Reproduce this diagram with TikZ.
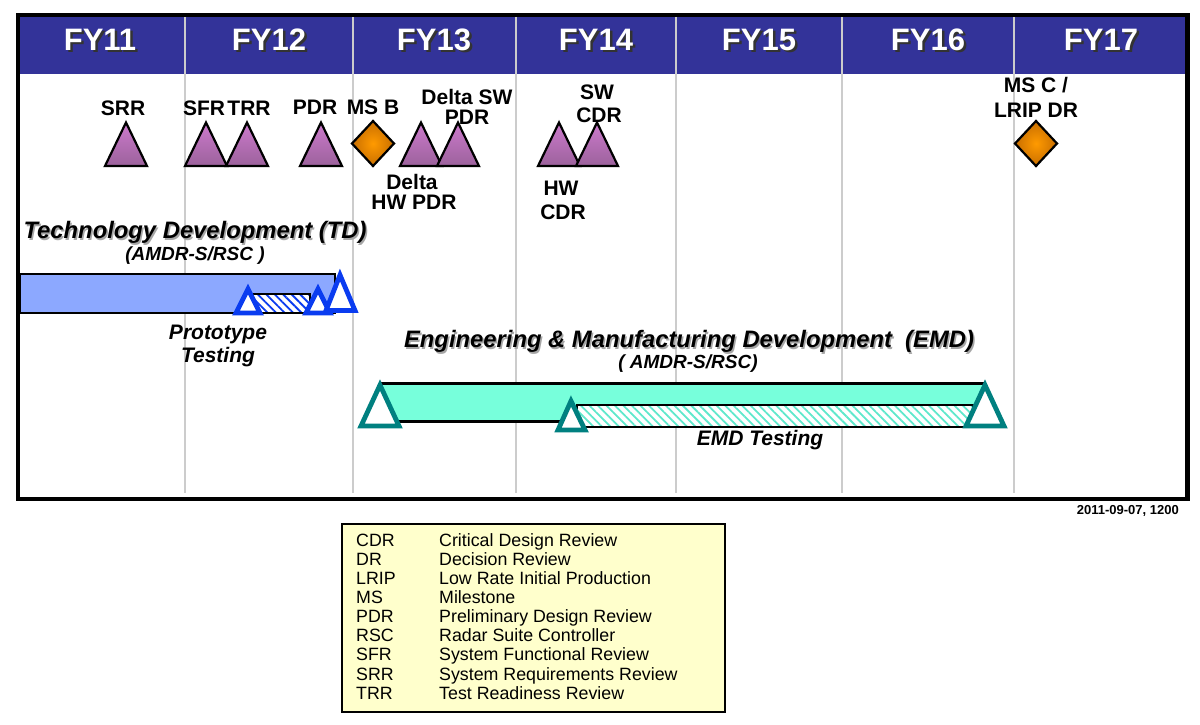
\documentclass[tikz,border=0pt]{standalone}
\usepackage{fontspec}
\setmainfont{Liberation Sans}
\usetikzlibrary{patterns.meta}

\definecolor{hdrblue}{HTML}{333399}
\definecolor{gridgray}{HTML}{CCCCCC}
\definecolor{revTop}{HTML}{CC7ACC}
\definecolor{revMid}{HTML}{FF90FF}
\definecolor{revBot}{HTML}{9C629C}
\definecolor{msIn}{HTML}{FF9A00}
\definecolor{msOut}{HTML}{C86E00}
\definecolor{tdfill}{HTML}{8CA8FF}
\definecolor{tdline}{HTML}{0A3CF0}
\definecolor{emdfill}{HTML}{77FFDB}
\definecolor{emdhatch}{HTML}{5EE8CC}
\definecolor{emdline}{HTML}{008080}
\definecolor{legfill}{HTML}{FFFFCC}

\newcommand\fyfont{\fontsize{31}{36}\selectfont\bfseries}
\newcommand\lblfont{\fontsize{21}{24}\selectfont\bfseries}
\newcommand\ttlfont{\fontsize{23.8}{28}\selectfont\bfseries\itshape}
\newcommand\subfont{\fontsize{19}{22}\selectfont\bfseries\itshape}
\newcommand\tstfont{\fontsize{21}{24}\selectfont\bfseries\itshape}
\newcommand\legfont{\fontsize{17.8}{20}\selectfont}
\newcommand\datefont{\fontsize{13}{15}\selectfont\bfseries}
% text with a drop shadow set behind it: {text}{offset}{shadow colour}
\newcommand\dropshadowed[3]{\makebox[0pt][l]{\kern#2\raisebox{-#2}{\textcolor{#3}{#1}}}#1}

\begin{document}
\begin{tikzpicture}[x=1pt,y=-1pt,
  fy/.style={font=\fyfont, text=white, inner sep=0, anchor=base},
  lbl/.style={font=\lblfont, inner sep=0, anchor=base},
  ttl/.style={font=\ttlfont, inner sep=0, anchor=base},
  subttl/.style={font=\subfont, inner sep=0, anchor=base},
  tst/.style={font=\tstfont, inner sep=0, anchor=base},
  leg/.style={font=\legfont, inner sep=0, anchor=base west},
  gridline/.style={draw=gridgray, line width=2},
  barline/.style={draw=black, line width=2.4},
  tdtri/.style={draw=tdline, fill=white, line width=4.8, line join=miter},
  emdtri/.style={draw=emdline, fill=white, line width=4.8, line join=miter},
  revtri/.pic={\shade[top color=revTop, middle color=revMid, bottom color=revBot,
      draw=black, line width=2.2, line join=miter]
      (-21,0) -- (0,-43.5) -- (21,0) -- cycle;},
  msdia/.pic={\shade[inner color=msIn, outer color=msOut, draw=black, line width=2.2]
      (-21,0) -- (0,-22.5) -- (21,0) -- (0,22.5) -- cycle;}
]
\useasboundingbox (0,0) rectangle (1200,724);

% header band
\fill[hdrblue] (20,17) rectangle (1185,74);

% fiscal-year dividers
\foreach \gx in {185,353,516,676,842,1014}
  \draw[gridline] (\gx,17) -- (\gx,493);

% fiscal-year headings
\foreach \hx/\yrname [count=\i] in {100/FY11,269/FY12,434/FY13,596/FY14,759/FY15,928/FY16,1101/FY17}
  \node[fy] (fy\i) at (\hx,50) {\dropshadowed{\yrname}{2.5pt}{black!80}};

% review milestones
\pic at (126,166) {revtri};
\pic at (206,166) {revtri};
\pic at (247,166) {revtri};
\pic at (321,166) {revtri};
\pic at (421,166) {revtri};
\pic at (458,166) {revtri};
\pic at (559,166) {revtri};
\pic at (597,166) {revtri};

% decision milestones
\pic at (373,143.5) {msdia};
\pic at (1036,143.5) {msdia};

% milestone labels
\node[lbl] (srr) at (123,115.5) {SRR};
\node[lbl] (sfr) at (204,115.5) {SFR};
\node[lbl] (trr) at (249,115.5) {TRR};
\node[lbl] (pdr) at (315,114.5) {PDR};
\node[lbl] (msb) at (373,114.5) {MS B};
\node[lbl] (dsw1) at (467,104.2) {Delta SW};
\node[lbl] (dsw2) at (467,124.2) {PDR};
\node[lbl] (dhw1) at (412,189.5) {Delta};
\node[lbl] (dhw2) at (414,209.5) {HW PDR};
\node[lbl] (swc1) at (597,99.2) {SW};
\node[lbl] (swc2) at (599,122.5) {CDR};
\node[lbl] (hwc1) at (561,195.8) {HW};
\node[lbl] (hwc2) at (563,219.2) {CDR};
\node[lbl] (msc1) at (1036,92.5) {MS C /};
\node[lbl] (msc2) at (1036,117.5) {LRIP DR};

% technology development phase
\node[ttl] (tdt) at (195,238.5) {\dropshadowed{Technology Development (TD)}{1.5pt}{black!35}};
\node[subttl] (tds) at (195,260.5) {(AMDR-S/RSC )};

\draw[barline, fill=tdfill] (20,274) rectangle (335,313);
\fill[white] (253,294) rectangle (310,313);
\draw[barline, pattern={Lines[angle=-45,distance=6pt,line width=1.8pt]}, pattern color=tdline]
  (253,294) rectangle (310,313);
\draw[tdtri] (236,313) -- (248,289) -- (260,313) -- cycle;
\draw[tdtri] (306,313) -- (318,289) -- (330,313) -- cycle;
\draw[tdtri] (326,310.5) -- (340,275) -- (355,310.5) -- cycle;
\node[tst] (pt1) at (218,339.2) {Prototype};
\node[tst] (pt2) at (218,362.5) {Testing};

% engineering & manufacturing development phase
\node[ttl] (emdt) at (689,347.5) {\dropshadowed{Engineering \& Manufacturing Development\ \ (EMD)}{1.5pt}{black!35}};
\node[subttl] (emds) at (688,368) {( AMDR-S/RSC)};

\draw[barline, fill=emdfill] (381,383.5) rectangle (985,421.5);
\fill[white] (577,405) rectangle (973,427);
\draw[barline, pattern={Lines[angle=-45,distance=6pt,line width=1.8pt]}, pattern color=emdhatch]
  (577,405) rectangle (973,427);
\draw[emdtri] (361,426) -- (380,385) -- (399,426) -- cycle;
\draw[emdtri] (558,430) -- (571,401) -- (585,430) -- cycle;
\draw[emdtri] (966,426) -- (985,385) -- (1004,426) -- cycle;
\node[tst] (emdtest) at (760,445.5) {EMD Testing};

% outer frame
\draw[black, line width=4.5] (18,15) rectangle (1187.5,499);

% revision stamp
\node[font=\datefont, inner sep=0, anchor=base east] (stamp) at (1179,514) {2011-09-07, 1200};

% acronym legend
\draw[black, line width=2.5, fill=legfill] (342,524) rectangle (725,712);
\foreach \acr/\acrtext [count=\i] in {CDR/Critical Design Review, DR/Decision Review,
    LRIP/Low Rate Initial Production, MS/Milestone, PDR/Preliminary Design Review,
    RSC/Radar Suite Controller, SFR/System Functional Review,
    SRR/System Requirements Review, TRR/Test Readiness Review} {
  \node[leg] (la\i) at (356,527.2+19.1*\i) {\acr};
  \node[leg] (lb\i) at (439,527.2+19.1*\i) {\acrtext};
}
\end{tikzpicture}
\end{document}
